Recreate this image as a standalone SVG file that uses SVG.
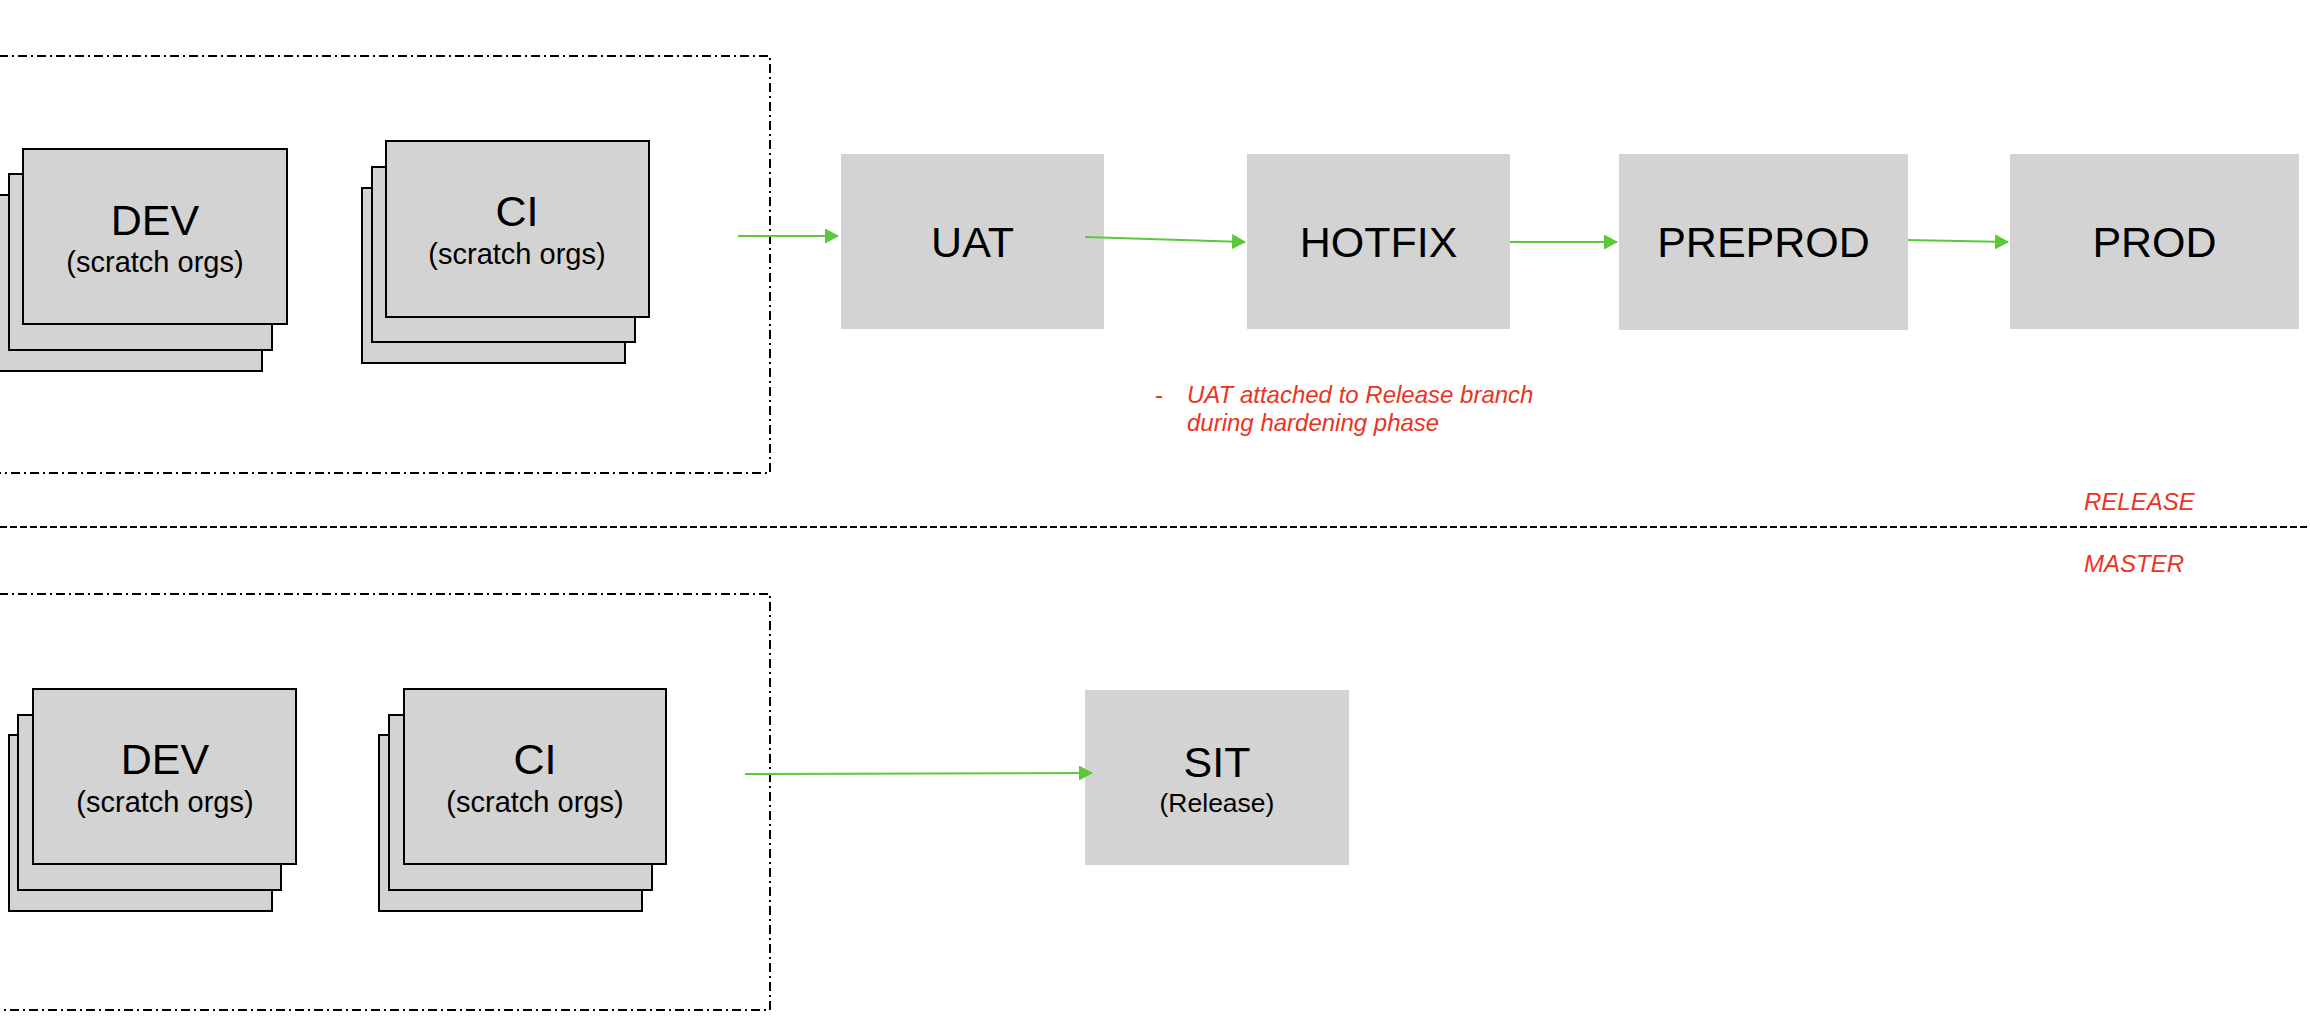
<svg xmlns="http://www.w3.org/2000/svg" width="2310" height="1032" viewBox="0 0 2310 1032">
<style>
.bg{fill:#ffffff}
.stack{fill:#d3d3d3;stroke:#000000;stroke-width:2}
.node{fill:#d3d3d3}
.frame{fill:none;stroke:#000000;stroke-width:2;stroke-dasharray:9 4 2 4}
.divider{fill:none;stroke:#000000;stroke-width:2;stroke-dasharray:7 3}
.big{font-family:"Liberation Sans",Arial,Helvetica,sans-serif;font-size:43px;fill:#000000;text-anchor:middle}
.sub{font-family:"Liberation Sans",Arial,Helvetica,sans-serif;font-size:29px;fill:#000000;text-anchor:middle}
.note{font-family:"Liberation Sans",Arial,Helvetica,sans-serif;font-size:24px;font-style:italic;fill:#eb3323}
.conn{fill:none;stroke:#5bc83a;stroke-width:2}
</style>
<defs>
<marker id="arrow" markerUnits="userSpaceOnUse" markerWidth="14" markerHeight="15" refX="13" refY="7.5" orient="auto" viewBox="0 0 14 15">
<path d="M0,0 L14,7.5 L0,15 Z" fill="#5bc83a"/>
</marker>
</defs>
<rect class="bg" x="0" y="0" width="2310" height="1032"/>

<g id="frames">
<rect class="frame" x="-20" y="56" width="790" height="417"/>
<rect class="frame" x="-20" y="594" width="790" height="416"/>
<line class="divider" x1="0" y1="527" x2="2310" y2="527"/>
</g>

<g id="dev-release">
<rect class="stack" x="-2" y="195" width="264" height="176"/>
<rect class="stack" x="9" y="174" width="263" height="176"/>
<rect class="stack" x="23" y="149" width="264" height="175"/>
<text class="big" x="155" y="235">DEV</text>
<text class="sub" x="155" y="272">(scratch orgs)</text>
</g>

<g id="ci-release">
<rect class="stack" x="362" y="188" width="263" height="175"/>
<rect class="stack" x="372" y="167" width="263" height="175"/>
<rect class="stack" x="386" y="141" width="263" height="176"/>
<text class="big" x="517" y="226">CI</text>
<text class="sub" x="517" y="264">(scratch orgs)</text>
</g>

<g id="uat">
<rect class="node" x="841" y="154" width="263" height="175"/>
<text class="big" x="972.5" y="257">UAT</text>
</g>

<g id="hotfix">
<rect class="node" x="1247" y="154" width="263" height="175"/>
<text class="big" x="1378.5" y="257">HOTFIX</text>
</g>

<g id="preprod">
<rect class="node" x="1619" y="154" width="289" height="176"/>
<text class="big" x="1763.5" y="257">PREPROD</text>
</g>

<g id="prod">
<rect class="node" x="2010" y="154" width="289" height="175"/>
<text class="big" x="2154.5" y="257">PROD</text>
</g>

<g id="dev-master">
<rect class="stack" x="9" y="735" width="263" height="176"/>
<rect class="stack" x="18" y="715" width="263" height="175"/>
<rect class="stack" x="33" y="689" width="263" height="175"/>
<text class="big" x="165" y="774">DEV</text>
<text class="sub" x="165" y="812">(scratch orgs)</text>
</g>

<g id="ci-master">
<rect class="stack" x="379" y="735" width="263" height="176"/>
<rect class="stack" x="389" y="715" width="263" height="175"/>
<rect class="stack" x="404" y="689" width="262" height="175"/>
<text class="big" x="535" y="774">CI</text>
<text class="sub" x="535" y="812">(scratch orgs)</text>
</g>

<g id="sit">
<rect class="node" x="1085" y="690" width="264" height="175"/>
<text class="big" x="1217" y="777">SIT</text>
<text class="sub" x="1217" y="812" style="font-size:26.5px">(Release)</text>
</g>

<g id="connectors">
<line class="conn" x1="738" y1="236" x2="838" y2="236" marker-end="url(#arrow)"/>
<line class="conn" x1="1085" y1="237" x2="1245" y2="242" marker-end="url(#arrow)"/>
<line class="conn" x1="1510" y1="242" x2="1617" y2="242" marker-end="url(#arrow)"/>
<line class="conn" x1="1908" y1="240" x2="2008" y2="242" marker-end="url(#arrow)"/>
<line class="conn" x1="745" y1="774" x2="1092" y2="773" marker-end="url(#arrow)"/>
</g>

<g id="labels">
<text class="note" x="1155" y="403" style="font-style:normal">-</text>
<text class="note" x="1187" y="403">UAT attached to Release branch</text>
<text class="note" x="1187" y="431">during hardening phase</text>
<text class="note" x="2084" y="510">RELEASE</text>
<text class="note" x="2084" y="572">MASTER</text>
</g>
</svg>
